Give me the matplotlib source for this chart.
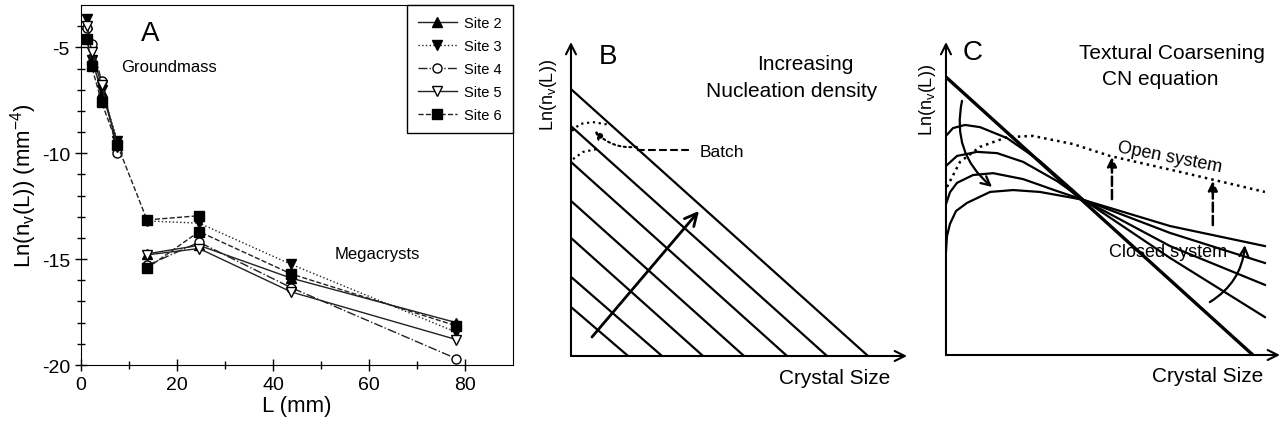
import numpy as np
import matplotlib
matplotlib.use("Agg")
import matplotlib.pyplot as plt

plt.rcParams['font.family'] = ['Liberation Sans', 'DejaVu Sans']
plt.rcParams['mathtext.fontset'] = 'custom'
plt.rcParams['mathtext.rm'] = 'Liberation Sans'
plt.rcParams['mathtext.it'] = 'Liberation Sans'
plt.rcParams['axes.unicode_minus'] = False

# --- panel A: measured CSDs per site ---
L_gm = [1.3, 2.2, 4.3, 7.6]
L_mc = [13.75, 24.6, 43.8, 78.2]
L_gm6 = [1.3, 2.2, 4.3, 7.6, 13.75, 24.6]

site2_gm = [-3.9, -5.5, -7.1, -9.5]
site2_mc = [-14.75, -14.35, -15.9, -18.0]
site3_gm = [-3.66, -5.6, -7.0, -9.4]
site3_mc = [-13.2, -13.3, -15.25, -18.45]
site4_gm = [-4.07, -4.84, -6.6, -10.0]
site4_mc = [-15.3, -14.2, -16.35, -19.7]
site5_gm = [-4.0, -5.2, -6.8, -9.7]
site5_mc = [-14.8, -14.5, -16.55, -18.8]
site6_gm = [-4.62, -5.88, -7.6, -9.62, -13.15, -12.95]
site6_mc = [-15.43, -13.7, -15.7, -18.15]

# --- panel B: batch CSDs (axis units) ---
b_start_y = [0.850, 0.732, 0.618, 0.494, 0.376, 0.252, 0.156]
b_end_x = [0.884, 0.762, 0.643, 0.515, 0.393, 0.271, 0.170]
batch1_x = [0.003, 0.027, 0.065, 0.116]
batch1_y = [0.717, 0.739, 0.745, 0.736]
batch2_x = [0.006, 0.036, 0.077]
batch2_y = [0.627, 0.650, 0.659]

# --- panel C: coarsening curves (axis units) ---
c_straight_x = [0.0, 0.919]
c_straight_y = [0.888, 0.0]
c1_x = [0, 0.021, 0.057, 0.102, 0.183, 0.281, 0.380, 0.413, 0.671, 0.955]
c1_y = [0.700, 0.725, 0.735, 0.728, 0.693, 0.620, 0.527, 0.495, 0.310, 0.121]
c2_x = [0, 0.033, 0.093, 0.153, 0.231, 0.332, 0.413, 0.671, 0.955]
c2_y = [0.604, 0.636, 0.649, 0.645, 0.617, 0.556, 0.495, 0.348, 0.224]
c3_x = [0, 0.012, 0.033, 0.081, 0.141, 0.231, 0.332, 0.413, 0.671, 0.955]
c3_y = [0.482, 0.520, 0.550, 0.575, 0.581, 0.562, 0.524, 0.495, 0.390, 0.294]
c4_x = [0, 0.003, 0.012, 0.030, 0.063, 0.132, 0.201, 0.281, 0.380, 0.413, 0.671, 0.955]
c4_y = [0.329, 0.380, 0.419, 0.460, 0.486, 0.521, 0.527, 0.521, 0.502, 0.495, 0.412, 0.348]
open_x = [0.003, 0.042, 0.102, 0.183, 0.260, 0.380, 0.491, 0.701, 0.955]
open_y = [0.537, 0.617, 0.665, 0.696, 0.700, 0.674, 0.636, 0.585, 0.521]

fig = plt.figure(figsize=(12.86, 4.31), dpi=100)

# ---------------- A ----------------
axA = fig.add_axes([0.063, 0.1508, 0.3359, 0.8353])
k = dict(color='#222222', lw=1.0, ms=6.5, markeredgewidth=1.0)
axA.plot(L_gm, site2_gm, '-', marker='^', mfc='black', mec='black', **k)
axA.plot(L_mc, site2_mc, '-', marker='^', mfc='black', mec='black', label='Site 2', **k)
axA.plot(L_gm, site3_gm, ':', marker='v', mfc='black', mec='black', **k)
axA.plot(L_mc, site3_mc, ':', marker='v', mfc='black', mec='black', label='Site 3', **k)
axA.plot(L_gm, site4_gm, '-.', marker='o', mfc='white', mec='black', **k)
axA.plot(L_mc, site4_mc, '-.', marker='o', mfc='white', mec='black', label='Site 4', **k)
axA.plot(L_gm, site5_gm, '-', marker='v', mfc='white', mec='black', **k)
axA.plot(L_mc, site5_mc, '-', marker='v', mfc='white', mec='black', label='Site 5', **k)
axA.plot(L_gm6, site6_gm, '--', marker='s', mfc='black', mec='black', **k)
axA.plot(L_mc, site6_mc, '--', marker='s', mfc='black', mec='black', label='Site 6', **k)

axA.set_xlim(0, 90)
axA.set_ylim(-20, -3)
axA.set_xticks([0, 20, 40, 60, 80])
axA.set_xticks([10, 30, 50, 70], minor=True)
axA.set_yticks([-20, -15, -10, -5])
axA.set_yticks(np.arange(-19, -3), minor=True)
axA.tick_params(which='major', direction='inout', length=9, width=1, labelsize=14)
axA.tick_params(which='minor', direction='inout', length=6, width=1)
axA.set_xlabel('L (mm)', fontsize=16, labelpad=1)
axA.set_ylabel(r'Ln(n$_\mathrm{v}$(L)) (mm$^{-4}$)', fontsize=16, labelpad=2)
axA.text(14.4, -4.34, 'A', fontsize=20, ha='center', va='center')
axA.text(18.3, -5.9, 'Groundmass', fontsize=12, ha='center', va='center')
axA.text(61.7, -14.75, 'Megacrysts', fontsize=12, ha='center', va='center')
leg = axA.legend(loc='upper right', bbox_to_anchor=(1.0, 1.0), borderaxespad=0,
                 fontsize=10.5, handlelength=2.7, handletextpad=0.5, labelspacing=0.62,
                 fancybox=False, edgecolor='black', framealpha=1, borderpad=0.75)
leg.get_frame().set_linewidth(1.0)

# ---------------- B ----------------
axB = fig.add_axes([0.444, 0.1717, 0.2613, 0.7285])
axB.set_xlim(0, 1)
axB.set_ylim(0, 1)
axB.axis('off')
arr = dict(arrowstyle='->', lw=1.5, color='black', mutation_scale=18, shrinkA=0, shrinkB=0)
axB.annotate('', xy=(1, 0), xytext=(0, 0), arrowprops=arr)
axB.annotate('', xy=(0, 1), xytext=(0, 0), arrowprops=arr)
for y0, x1 in zip(b_start_y, b_end_x):
    axB.plot([0, x1], [y0, 0], color='black', lw=1.6)
axB.plot(batch1_x, batch1_y, ':', color='black', lw=1.6)
axB.plot(batch2_x, batch2_y, ':', color='black', lw=1.6)
axB.annotate('', xy=(0.071, 0.717), xytext=(0.196, 0.666),
             arrowprops=dict(arrowstyle='-|>', lw=1.5, ls=':', color='black',
                             connectionstyle='arc3,rad=-0.25', mutation_scale=12,
                             shrinkA=0, shrinkB=0))
axB.plot([0.196, 0.354], [0.656, 0.656], '--', color='black', lw=1.5)
axB.text(0.384, 0.65, 'Batch', fontsize=12.5, ha='left', va='center')
axB.annotate('', xy=(0.381, 0.462), xytext=(0.0625, 0.0605),
             arrowprops=dict(arrowstyle='->', lw=2.0, color='black', mutation_scale=22,
                             shrinkA=0, shrinkB=0))
axB.text(0.11, 0.955, 'B', fontsize=20, ha='center', va='center')
axB.text(0.696, 0.93, 'Increasing', fontsize=15, ha='center', va='center')
axB.text(0.658, 0.844, 'Nucleation density', fontsize=15, ha='center', va='center')
axB.text(0.786, -0.067, 'Crystal Size', fontsize=15, ha='center', va='center')
axB.text(-0.068, 0.834, r'Ln(n$_\mathrm{v}$(L))', fontsize=13, rotation=90,
         ha='center', va='center')

# ---------------- C ----------------
axC = fig.add_axes([0.7356, 0.174, 0.2597, 0.7262])
axC.set_xlim(0, 1)
axC.set_ylim(0, 1)
axC.axis('off')
axC.annotate('', xy=(1, 0), xytext=(0, 0), arrowprops=arr)
axC.annotate('', xy=(0, 1), xytext=(0, 0), arrowprops=arr)
axC.plot(c_straight_x, c_straight_y, color='black', lw=2.4)
for cx, cy in [(c1_x, c1_y), (c2_x, c2_y), (c3_x, c3_y), (c4_x, c4_y)]:
    axC.plot(cx, cy, color='black', lw=1.6)
axC.plot(open_x, open_y, ':', color='black', lw=1.8)
darr = dict(arrowstyle='-|>', lw=1.8, ls='--', color='black', mutation_scale=14,
            shrinkA=0, shrinkB=0)
axC.annotate('', xy=(0.497, 0.633), xytext=(0.497, 0.498), arrowprops=darr)
axC.annotate('', xy=(0.799, 0.556), xytext=(0.799, 0.415), arrowprops=darr)
axC.annotate('', xy=(0.138, 0.537), xytext=(0.048, 0.812),
             arrowprops=dict(arrowstyle='->', lw=1.6, color='black', mutation_scale=16,
                             connectionstyle='arc3,rad=0.3', shrinkA=0, shrinkB=0))
axC.annotate('', xy=(0.895, 0.351), xytext=(0.790, 0.169),
             arrowprops=dict(arrowstyle='->', lw=1.6, color='black', mutation_scale=16,
                             connectionstyle='arc3,rad=0.25', shrinkA=0, shrinkB=0))
axC.text(0.081, 0.968, 'C', fontsize=20, ha='center', va='center')
axC.text(0.677, 0.968, 'Textural Coarsening', fontsize=15, ha='center', va='center')
axC.text(0.641, 0.885, 'CN equation', fontsize=15, ha='center', va='center')
axC.text(0.67, 0.632, 'Open system', fontsize=13, rotation=-11, ha='center', va='center')
axC.text(0.665, 0.33, 'Closed system', fontsize=13, ha='center', va='center')
axC.text(0.784, -0.064, 'Crystal Size', fontsize=15, ha='center', va='center')
axC.text(-0.054, 0.818, r'Ln(n$_\mathrm{v}$(L))', fontsize=13, rotation=90,
         ha='center', va='center')

fig.savefig('out.png', dpi=100)
